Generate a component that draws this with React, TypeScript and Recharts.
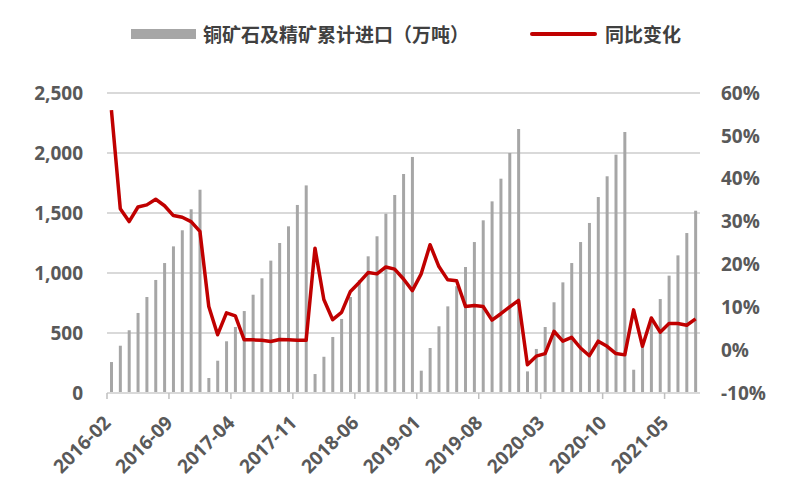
import { ComposedChart, Bar, Line, XAxis, YAxis, CartesianGrid } from 'recharts';

// monthly categories, 2016-02 .. 2021-08
const months = [
  '2016-02', '2016-03', '2016-04', '2016-05', '2016-06', '2016-07', '2016-08', '2016-09', '2016-10', '2016-11', '2016-12',
  '2017-01', '2017-02', '2017-03', '2017-04', '2017-05', '2017-06', '2017-07', '2017-08', '2017-09', '2017-10', '2017-11', '2017-12',
  '2018-01', '2018-02', '2018-03', '2018-04', '2018-05', '2018-06', '2018-07', '2018-08', '2018-09', '2018-10', '2018-11', '2018-12',
  '2019-01', '2019-02', '2019-03', '2019-04', '2019-05', '2019-06', '2019-07', '2019-08', '2019-09', '2019-10', '2019-11', '2019-12',
  '2020-01', '2020-02', '2020-03', '2020-04', '2020-05', '2020-06', '2020-07', '2020-08', '2020-09', '2020-10', '2020-11', '2020-12',
  '2021-01', '2021-02', '2021-03', '2021-04', '2021-05', '2021-06', '2021-07', '2021-08',
];

// 铜矿石及精矿累计进口（万吨）
const imports = [
  258, 394, 522, 667, 800, 942, 1083, 1222, 1356, 1531, 1694,
  125, 269, 431, 550, 683, 819, 956, 1103, 1250, 1389, 1567, 1730,
  158, 302, 467, 617, 800, 940, 1139, 1306, 1494, 1650, 1825, 1967,
  186, 375, 556, 722, 890, 1050, 1258, 1439, 1597, 1786, 2000, 2200,
  180, 367, 550, 756, 922, 1083, 1258, 1417, 1633, 1806, 1986, 2175,
  194, 390, 590, 783, 978, 1147, 1333, 1519,
];

// 同比变化 (%)
const yoy = [
  56.0, 33.0, 30.0, 33.4, 33.9, 35.2, 33.7, 31.4, 31.0, 30.0, 27.7,
  10.2, 3.6, 8.7, 8.0, 2.4, 2.4, 2.3, 2.0, 2.5, 2.4, 2.3, 2.3,
  23.8, 11.8, 7.1, 8.8, 13.7, 15.8, 18.1, 17.8, 19.4, 18.9, 16.6, 13.9,
  17.8, 24.6, 19.5, 16.4, 16.2, 10.2, 10.4, 10.2, 7.0, 8.5, 10.1, 11.6,
  -3.4, -1.4, -0.8, 4.4, 2.1, 3.0, 0.5, -1.3, 2.1, 0.9, -0.8, -1.1,
  9.4, 0.9, 7.5, 4.2, 6.2, 6.2, 5.8, 7.3,
];

const leftTicks = [0, 500, 1000, 1500, 2000, 2500];
const rightTicks = [-10, 0, 10, 20, 30, 40, 50, 60];

const data = months.map((m, i) => ({ month: m, imports: imports[i], yoy: yoy[i] }));

const tickFont = { fontFamily: '"Open Sans", sans-serif', fontSize: 19, fontWeight: 700, fill: '#595959' };

const MonthTick = (props: any) => {
  const { x, y, payload } = props;
  const bx = x - (payload.offset || 0);
  const tx = bx + 5;
  const ty = y + 31;
  return (
    <g>
      <line x1={bx} y1={y} x2={bx} y2={y + 6} stroke="#bfbfbf" strokeWidth={1.5} />
      <text x={tx} y={ty} textAnchor="end" transform={`rotate(-45 ${tx} ${ty})`} {...tickFont}>
        {payload.value}
      </text>
    </g>
  );
};

export default function App() {
  const legendText = {
    fontFamily: '"Noto Sans CJK SC", sans-serif',
    fontSize: 19,
    fontWeight: 700,
    color: '#404040',
  };
  return (
    <div style={{ position: 'absolute', left: 0, top: 0, width: 800, height: 500, background: '#fff' }}>
      <div style={{ position: 'absolute', left: 131, top: 29, width: 65, height: 10, background: '#a6a6a6' }} />
      <div style={{ position: 'absolute', left: 203, top: 20, lineHeight: '28px', ...legendText }}>
        铜矿石及精矿累计进口（万吨）
      </div>
      <div style={{ position: 'absolute', left: 530, top: 32, width: 67, height: 4, background: '#c00000', borderRadius: 2 }} />
      <div style={{ position: 'absolute', left: 605, top: 20, lineHeight: '28px', ...legendText }}>
        同比变化
      </div>
      <ComposedChart
        width={800}
        height={500}
        data={data}
        margin={{ top: 93, right: 0, bottom: 17, left: 7 }}
      >
        <CartesianGrid yAxisId="left" vertical={false} stroke="#d9d9d9" strokeWidth={2} />
        <XAxis
          dataKey="month"
          interval={6}
          height={90}
          axisLine={{ stroke: '#d9d9d9', strokeWidth: 2 }}
          tickLine={false}
          tickSize={0}
          tickMargin={0}
          tick={<MonthTick />}
        />
        <YAxis
          yAxisId="left"
          domain={[0, 2500]}
          ticks={leftTicks}
          width={100}
          axisLine={false}
          tickLine={false}
          tickSize={0}
          tickMargin={24}
          tick={tickFont}
          tickFormatter={(v: number) => v.toLocaleString('en-US')}
        />
        <YAxis
          yAxisId="right"
          orientation="right"
          domain={[-10, 60]}
          ticks={rightTicks}
          width={100}
          axisLine={false}
          tickLine={false}
          tickSize={0}
          tickMargin={21}
          tick={{ ...tickFont, textAnchor: 'start' }}
          tickFormatter={(v: number) => `${v}%`}
        />
        <Bar yAxisId="left" dataKey="imports" fill="#a6a6a6" barSize={3} isAnimationActive={false} />
        <Line
          yAxisId="right"
          dataKey="yoy"
          type="linear"
          stroke="#c00000"
          strokeWidth={3.5}
          dot={false}
          strokeLinejoin="round"
          isAnimationActive={false}
        />
      </ComposedChart>
    </div>
  );
}
